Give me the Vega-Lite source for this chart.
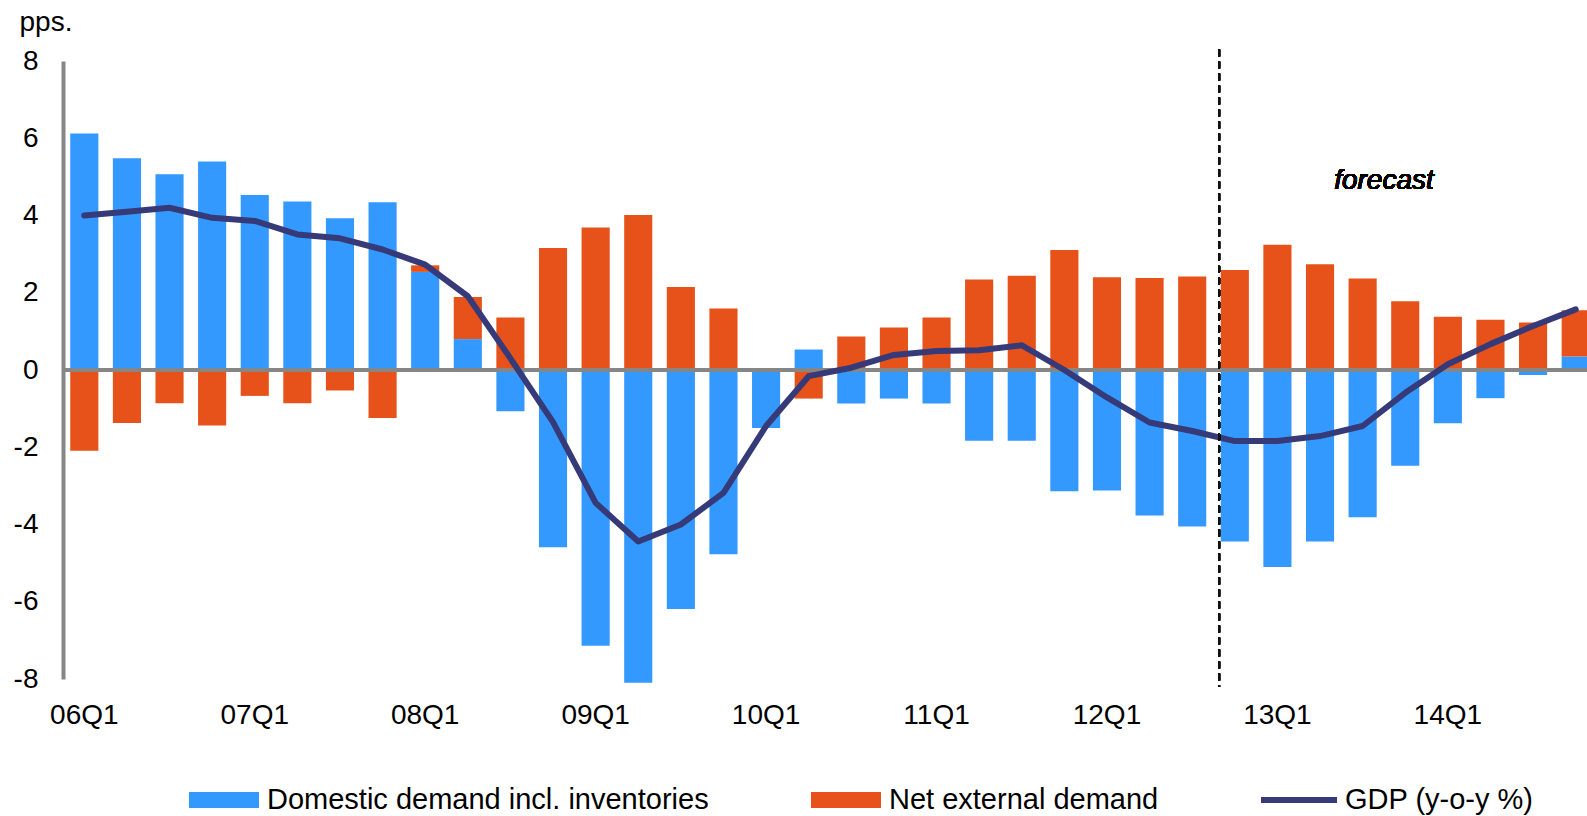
{
  "$schema": "https://vega.github.io/schema/vega-lite/v6.json",
  "width": 1524,
  "height": 618,
  "autosize": "none",
  "padding": {"left": 63, "top": 61, "right": 0, "bottom": 137},
  "background": "white",
  "config": {
    "view": {"stroke": null},
    "font": "Liberation Sans"
  },
  "data": {
    "values": [
      {"q": "06Q1", "d": 6.12, "n": -2.09, "g": 4.0},
      {"q": "06Q2", "d": 5.48, "n": -1.37, "g": 4.1},
      {"q": "06Q3", "d": 5.07, "n": -0.86, "g": 4.2},
      {"q": "06Q4", "d": 5.4, "n": -1.44, "g": 3.94},
      {"q": "07Q1", "d": 4.53, "n": -0.67, "g": 3.86},
      {"q": "07Q2", "d": 4.36, "n": -0.86, "g": 3.51},
      {"q": "07Q3", "d": 3.93, "n": -0.53, "g": 3.41},
      {"q": "07Q4", "d": 4.34, "n": -1.24, "g": 3.12},
      {"q": "08Q1", "d": 2.54, "n": 0.17, "g": 2.73},
      {"q": "08Q2", "d": 0.8, "n": 1.09, "g": 1.91},
      {"q": "08Q3", "d": -1.07, "n": 1.36, "g": 0.3},
      {"q": "08Q4", "d": -4.59, "n": 3.16, "g": -1.35},
      {"q": "09Q1", "d": -7.14, "n": 3.69, "g": -3.44},
      {"q": "09Q2", "d": -8.1, "n": 4.01, "g": -4.44},
      {"q": "09Q3", "d": -6.19, "n": 2.15, "g": -4.0},
      {"q": "09Q4", "d": -4.77, "n": 1.59, "g": -3.18},
      {"q": "10Q1", "d": -1.5, "n": 0, "g": -1.45},
      {"q": "10Q2", "d": 0.53, "n": -0.74, "g": -0.16},
      {"q": "10Q3", "d": -0.87, "n": 0.87, "g": 0.06},
      {"q": "10Q4", "d": -0.74, "n": 1.1, "g": 0.39},
      {"q": "11Q1", "d": -0.87, "n": 1.36, "g": 0.49},
      {"q": "11Q2", "d": -1.83, "n": 2.34, "g": 0.51},
      {"q": "11Q3", "d": -1.83, "n": 2.44, "g": 0.64},
      {"q": "11Q4", "d": -3.14, "n": 3.11, "g": 0.0},
      {"q": "12Q1", "d": -3.12, "n": 2.4, "g": -0.71},
      {"q": "12Q2", "d": -3.77, "n": 2.38, "g": -1.36},
      {"q": "12Q3", "d": -4.05, "n": 2.42, "g": -1.58},
      {"q": "12Q4", "d": -4.44, "n": 2.59, "g": -1.84},
      {"q": "13Q1", "d": -5.1, "n": 3.24, "g": -1.84},
      {"q": "13Q2", "d": -4.44, "n": 2.74, "g": -1.71},
      {"q": "13Q3", "d": -3.81, "n": 2.37, "g": -1.45},
      {"q": "13Q4", "d": -2.48, "n": 1.78, "g": -0.59},
      {"q": "14Q1", "d": -1.38, "n": 1.38, "g": 0.15},
      {"q": "14Q2", "d": -0.73, "n": 1.3, "g": 0.67},
      {"q": "14Q3", "d": -0.13, "n": 1.23, "g": 1.14},
      {"q": "14Q4", "d": 0.35, "n": 1.2, "g": 1.57}
    ]
  },
  "encoding": {
    "x": {
      "field": "q",
      "type": "ordinal",
      "sort": null,
      "scale": {"paddingInner": 0, "paddingOuter": 0, "range": [0, 1534]},
      "axis": {
        "title": null,
        "values": ["06Q1", "07Q1", "08Q1", "09Q1", "10Q1", "11Q1", "12Q1", "13Q1", "14Q1"],
        "labelAngle": 0,
        "domain": false,
        "ticks": false,
        "grid": false,
        "labelPadding": 22,
        "labelFontSize": 28,
        "labelFont": "Liberation Sans",
        "labelColor": "#000000"
      }
    }
  },
  "layer": [
    {
      "transform": [{"fold": ["d", "n"], "as": ["s", "v"]}],
      "mark": {"type": "bar", "width": {"band": 0.66}},
      "encoding": {
        "y": {
          "field": "v",
          "type": "quantitative",
          "stack": "zero",
          "scale": {"domain": [-8, 8], "nice": false, "zero": false},
          "axis": {
            "title": "pps.",
            "titleAngle": 0,
            "titleAlign": "left",
            "titleBaseline": "alphabetic",
            "titleX": -44,
            "titleY": -31,
            "titleFontSize": 28,
            "titleFontWeight": "normal",
            "titleFont": "Liberation Sans",
            "titleColor": "#000000",
            "values": [-8, -6, -4, -2, 0, 2, 4, 6, 8],
            "labelExpr": "'' + datum.value",
            "grid": false,
            "ticks": false,
            "domainColor": "#868686",
            "domainWidth": 4,
            "labelPadding": 25,
            "labelFontSize": 28,
            "labelFont": "Liberation Sans",
            "labelColor": "#000000"
          }
        },
        "color": {
          "field": "s",
          "type": "nominal",
          "scale": {"domain": ["d", "n", "g"], "range": ["#3399FF", "#E65219", "#363A78"]},
          "legend": {
            "title": null,
            "orient": "none",
            "direction": "horizontal",
            "columns": 3,
            "legendX": 126,
            "legendY": 704,
            "symbolSize": 4900,
            "labelFontSize": 29,
            "labelFont": "Liberation Sans",
            "labelColor": "#000000",
            "labelLimit": 1000,
            "labelOffset": 8,
            "columnPadding": 102,
            "labelExpr": "datum.value == 'd' ? 'Domestic demand incl. inventories' : datum.value == 'n' ? 'Net external demand' : 'GDP (y-o-y %)'",
            "encode": {
              "symbols": {
                "update": {
                  "shape": {"signal": "datum.value == 'g' ? 'M-1.171,-0.0857H1V0.0857H-1.171Z' : 'M-1,-0.2286H1V0.2286H-1Z'"},
                  "fill": {"signal": "scale('color', datum.value)"},
                  "stroke": {"value": "transparent"},
                  "strokeWidth": {"value": 0},
                  "opacity": {"value": 1}
                }
              }
            }
          }
        },
        "order": {"field": "s", "sort": "ascending"}
      }
    },
    {
      "mark": {"type": "rule", "color": "#868686", "strokeWidth": 4},
      "encoding": {"x": null, "y": {"datum": 0, "type": "quantitative"}}
    },
    {
      "mark": {"type": "line", "strokeWidth": 6, "strokeJoin": "round", "strokeCap": "round"},
      "encoding": {
        "y": {"field": "g", "type": "quantitative"},
        "color": {"datum": "g"}
      }
    },
    {
      "mark": {"type": "rule", "color": "#111111", "strokeWidth": 2, "strokeDash": [7, 5]},
      "encoding": {
        "x": {"datum": "12Q4", "bandPosition": 0.13},
        "y": {"datum": 8.3, "type": "quantitative"},
        "y2": {"datum": -8.2}
      }
    },
    {
      "mark": {"type": "text", "text": "forecast", "fontStyle": "italic", "fontWeight": "normal", "fontSize": 28, "font": "Liberation Sans", "fill": "#000000", "strokeWidth": 0, "align": "center", "baseline": "middle"},
      "encoding": {
        "x": {"datum": "13Q4", "bandPosition": 0},
        "y": {"datum": 4.9, "type": "quantitative"}
      }
    }
  ]
}
